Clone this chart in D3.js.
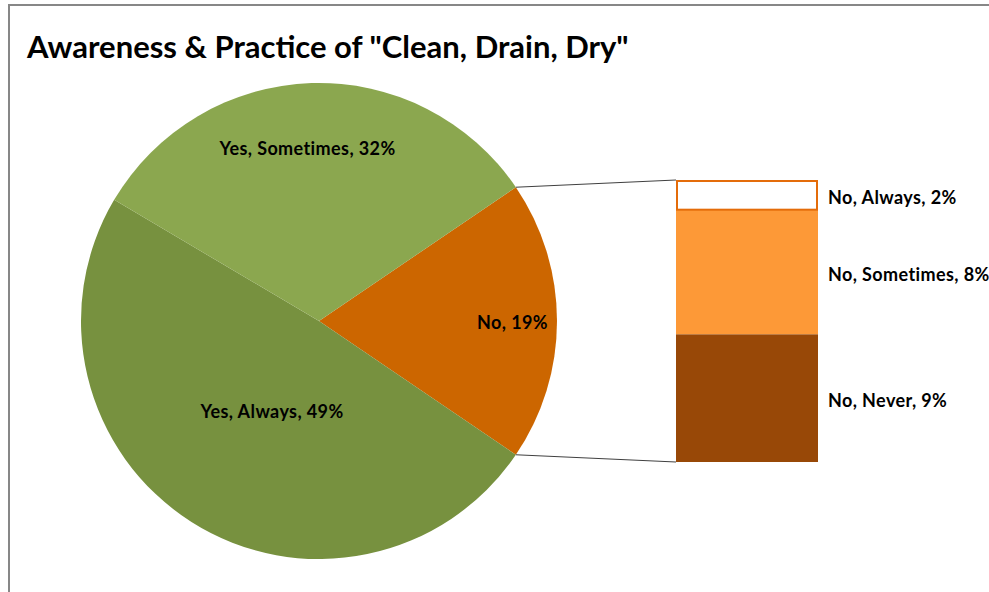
<!DOCTYPE html>
<html>
<head>
<meta charset="utf-8">
<script src="https://cdn.jsdelivr.net/npm/d3@7"></script>
<style>
  html, body { margin: 0; padding: 0; background: #fff; }
  svg { display: block; }
  text { font-family: Lato, "Open Sans", sans-serif; font-weight: bold; fill: #000; }
</style>
</head>
<body>
<svg id="chart" width="989" height="592"></svg>
<script>
// ---- data ----
const title = 'Awareness & Practice of "Clean, Drain, Dry"';
const pieCategories = ["No", "Yes, Always", "Yes, Sometimes"];
const pieValues = [19, 49, 32];
const pieLabels = ["No, 19%", "Yes, Always, 49%", "Yes, Sometimes, 32%"];
const barCategories = ["No, Always", "No, Sometimes", "No, Never"];
const barValues = [2.0, 8.4, 8.6];
const barLabels = ["No, Always, 2%", "No, Sometimes, 8%", "No, Never, 9%"];

// ---- styles / layout ----
const pieColors = ["#CC6600", "#77913F", "#8BA74F"];
const barColors = ["#FFFFFF", "#FD9937", "#984807"];
const labelRadiusFrac = [0.813, 0.423, 0.729];
const labelAngleShiftDeg = [0, -4.6, -2];

const svg = d3.select("#chart");

// chart frame (top and left edges visible)
svg.append("line").attr("x1", 8).attr("x2", 989).attr("y1", 5).attr("y2", 5)
  .attr("stroke", "#878787").attr("stroke-width", 2);
svg.append("line").attr("x1", 9).attr("x2", 9).attr("y1", 4).attr("y2", 592)
  .attr("stroke", "#878787").attr("stroke-width", 2);

svg.append("text").attr("x", 27).attr("y", 58)
  .attr("font-size", 31).text(title);

const cx = 319, cy = 321, R = 238;
const total = d3.sum(pieValues);
const noShare = pieValues[0] / total;
const start = Math.PI / 2 - noShare * Math.PI;

const pie = d3.pie().sort(null).value(d => d)
  .startAngle(start).endAngle(start + 2 * Math.PI);
const arcs = pie(pieValues);
const arc = d3.arc().innerRadius(0).outerRadius(R);

const g = svg.append("g").attr("transform", `translate(${cx},${cy})`);
g.selectAll("path").data(arcs).join("path")
  .attr("d", arc).attr("fill", (d, i) => pieColors[i]);

g.selectAll("text").data(arcs).join("text")
  .attr("transform", (d, i) => {
    const r = R * labelRadiusFrac[i];
    const a = (d.startAngle + d.endAngle) / 2 + labelAngleShiftDeg[i] * Math.PI / 180;
    return `translate(${r * Math.sin(a)},${-r * Math.cos(a)})`;
  })
  .attr("text-anchor", "middle").attr("dy", "0.42em")
  .attr("font-size", 18).attr("letter-spacing", 0.4)
  .text((d, i) => pieLabels[i]);

// bar of pie
const barX = 676, barW = 142, barTop = 180, barBottom = 462;
const y = d3.scaleLinear().domain([0, d3.sum(barValues)]).range([barTop, barBottom]);
const cum = d3.cumsum(barValues);
const segs = barValues.map((v, i) => ({ v, y0: i ? cum[i - 1] : 0, y1: cum[i], i }));

svg.selectAll("rect.seg").data(segs).join("rect").attr("class", "seg")
  .attr("x", barX).attr("width", barW)
  .attr("y", d => y(d.y0)).attr("height", d => y(d.y1) - y(d.y0))
  .attr("fill", d => barColors[d.i]);
// outline for white segment
svg.append("rect").attr("x", barX + 1).attr("y", y(0) + 1)
  .attr("width", barW - 2).attr("height", y(segs[0].y1) - y(0) - 1)
  .attr("fill", "none").attr("stroke", "#E46C0A").attr("stroke-width", 2);

svg.selectAll("text.bl").data(segs).join("text").attr("class", "bl")
  .attr("x", barX + barW + 10)
  .attr("y", d => (y(d.y0) + y(d.y1)) / 2 + 2.5)
  .attr("dy", "0.35em").attr("font-size", 18).attr("letter-spacing", 0.4)
  .text(d => barLabels[d.i]);

// connector lines
const noArc = arcs[0];
const p1 = [cx + R * Math.sin(noArc.startAngle), cy - R * Math.cos(noArc.startAngle)];
const p2 = [cx + R * Math.sin(noArc.endAngle), cy - R * Math.cos(noArc.endAngle)];
svg.append("line").attr("x1", p1[0]).attr("y1", p1[1]).attr("x2", barX).attr("y2", barTop)
  .attr("stroke", "#404040").attr("stroke-width", 1);
svg.append("line").attr("x1", p2[0]).attr("y1", p2[1]).attr("x2", barX).attr("y2", barBottom)
  .attr("stroke", "#404040").attr("stroke-width", 1);
</script>
</body>
</html>
